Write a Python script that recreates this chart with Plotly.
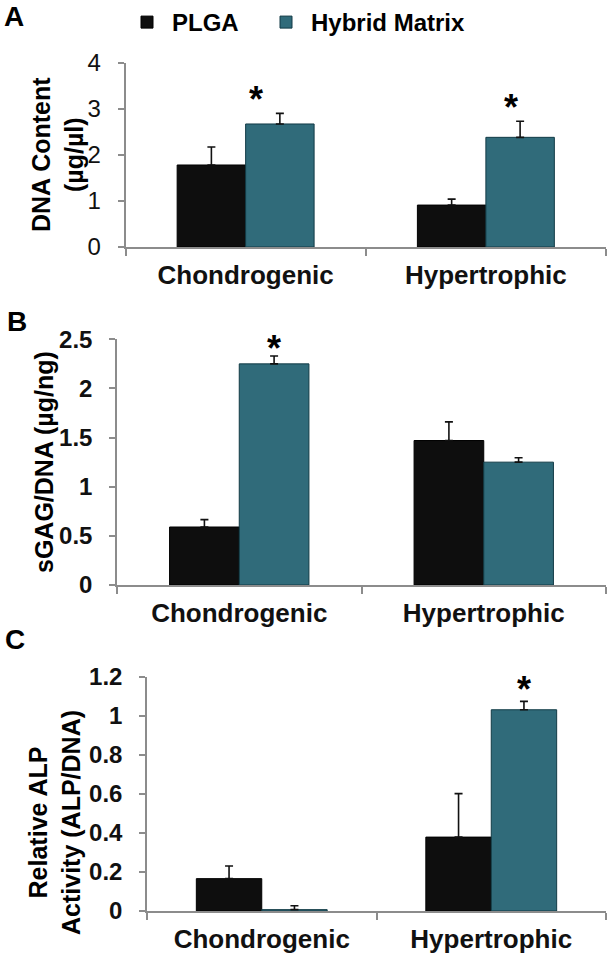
import plotly.graph_objects as go

# ---------------- data ----------------
categories = ["Chondrogenic", "Hypertrophic"]
series_names = ["PLGA", "Hybrid Matrix"]

dna_plga = [1.78, 0.91]
dna_plga_err = [0.39, 0.13]
dna_hybrid = [2.67, 2.38]
dna_hybrid_err = [0.23, 0.35]

gag_plga = [0.59, 1.47]
gag_plga_err = [0.075, 0.19]
gag_hybrid = [2.25, 1.25]
gag_hybrid_err = [0.08, 0.045]

alp_plga = [0.166, 0.379]
alp_plga_err = [0.065, 0.223]
alp_hybrid = [0.007, 1.032]
alp_hybrid_err = [0.02, 0.043]

# significance (hybrid vs PLGA) per panel and category
sig_dna = [True, True]
sig_gag = [True, False]
sig_alp = [False, True]

panel_letters = ["A", "B", "C"]
y_titles = ["DNA Content<br>(µg/µl)", "sGAG/DNA (µg/ng)", "Relative ALP<br>Activity (ALP/DNA)"]
y_ticks_dna = [0, 1, 2, 3, 4]
y_ticks_gag = [0, 0.5, 1, 1.5, 2, 2.5]
y_ticks_alp = [0, 0.2, 0.4, 0.6, 0.8, 1, 1.2]

# ---------------- style ----------------
W, H = 608, 960
FONT = "Liberation Sans, Arial, sans-serif"
C_PLGA = "#0e0e0e"
C_HYB = "#306b7a"
AXC = "#8c8c8c"


def px_x(p):
    return p / W


def px_y(p):
    return 1 - p / H


panels = [
    dict(plga=dna_plga, plga_err=dna_plga_err, hyb=dna_hybrid, hyb_err=dna_hybrid_err,
         sig=sig_dna, ticks=y_ticks_dna, rng=[0, 4], xdom=[125.5, 606], ydom=[62.7, 247],
         bold_ticks=False, star_dx=[10, 25], star_dy=14, title_x=57, title_y=155, letter=(2, 17)),
    dict(plga=gag_plga, plga_err=gag_plga_err, hyb=gag_hybrid, hyb_err=gag_hybrid_err,
         sig=sig_gag, ticks=y_ticks_gag, rng=[0, 2.5], xdom=[117, 606], ydom=[339.3, 585],
         bold_ticks=True, star_dx=[35, 35], star_dy=8, title_x=44, title_y=462, letter=(5, 321)),
    dict(plga=alp_plga, plga_err=alp_plga_err, hyb=alp_hybrid, hyb_err=alp_hybrid_err,
         sig=sig_alp, ticks=y_ticks_alp, rng=[0, 1.2], xdom=[147, 606], ydom=[677, 911],
         bold_ticks=True, star_dx=[33, 33], star_dy=12, title_x=54, title_y=823, letter=(3, 639)),
]

fig = go.Figure()
annotations = []
layout_axes = {}

for i, p in enumerate(panels):
    n = "" if i == 0 else str(i + 1)
    xa, ya = "x" + n, "y" + n
    for k, (name, vals, errs, col) in enumerate([
        (series_names[0], p["plga"], p["plga_err"], C_PLGA),
        (series_names[1], p["hyb"], p["hyb_err"], C_HYB),
    ]):
        fig.add_trace(go.Bar(
            x=categories, y=vals, name=name, xaxis=xa, yaxis=ya,
            marker=dict(color=col, line=dict(color="#123b46" if col == C_HYB else "#000000", width=1)),
            error_y=dict(type="data", array=errs, arrayminus=[0] * len(errs), symmetric=False,
                         color="#111111", thickness=1.6, width=4),
            showlegend=(i == 0), legendgroup=name,
            legend="legend" if k == 0 else "legend2",
        ))
    tickfont = dict(family=FONT, size=24, color="#111111")
    if p["bold_ticks"]:
        tickfont["weight"] = "bold"
    layout_axes["xaxis" + n] = dict(
        domain=[px_x(p["xdom"][0]), px_x(p["xdom"][1])], anchor=ya,
        type="category", tickson="boundaries", ticks="outside", ticklen=7, tickwidth=1.5,
        tickcolor=AXC, showline=True, linecolor=AXC, linewidth=1.5, showgrid=False,
        tickfont=dict(family=FONT, size=26, color="#111111", weight="bold"),
        ticklabelstandoff=4, automargin=False, fixedrange=True,
    )
    layout_axes["yaxis" + n] = dict(
        domain=[px_y(p["ydom"][1]), px_y(p["ydom"][0])], anchor=xa,
        range=p["rng"], tickvals=p["ticks"], ticktext=[f"{t:g}" for t in p["ticks"]],
        ticks="outside", ticklen=6, tickwidth=1.5, tickcolor=AXC, showline=True,
        linecolor=AXC, linewidth=1.5, showgrid=False, zeroline=False,
        tickfont=tickfont, ticklabelstandoff=12, automargin=False, fixedrange=True,
    )
    # significance stars
    for j, cat in enumerate(categories):
        if p["sig"][j]:
            annotations.append(dict(
                x=cat, y=p["hyb"][j] + p["hyb_err"][j], xref=xa, yref=ya,
                text="*", showarrow=False, xanchor="center", yanchor="middle",
                xshift=p["star_dx"][j], yshift=p["star_dy"],
                font=dict(family=FONT, size=36, color="#000000", weight="bold"),
            ))
    # y-axis title
    annotations.append(dict(
        x=px_x(p["title_x"]), y=px_y(p["title_y"]), xref="paper", yref="paper",
        text=y_titles[i], textangle=-90, showarrow=False, xanchor="center", yanchor="middle",
        font=dict(family=FONT, size=25, color="#000000", weight="bold"),
    ))
    # panel letter
    annotations.append(dict(
        x=px_x(p["letter"][0]), y=px_y(p["letter"][1]), xref="paper", yref="paper",
        text=panel_letters[i], showarrow=False, xanchor="left", yanchor="middle",
        font=dict(family=FONT, size=28, color="#000000", weight="bold"),
    ))

legend_font = dict(family=FONT, size=24, color="#000000", weight="bold")
fig.update_layout(
    width=W, height=H, margin=dict(l=0, r=0, t=0, b=0, autoexpand=False),
    paper_bgcolor="white", plot_bgcolor="white",
    barmode="group", bargap=0.43, bargroupgap=0,
    font=dict(family=FONT, color="#000000"),
    legend=dict(orientation="h", x=px_x(122), y=px_y(0), xanchor="left", yanchor="top",
                font=legend_font, bgcolor="rgba(0,0,0,0)", itemwidth=40),
    legend2=dict(orientation="h", x=px_x(261), y=px_y(0), xanchor="left", yanchor="top",
                 font=legend_font, bgcolor="rgba(0,0,0,0)", itemwidth=40),
    annotations=annotations,
    **layout_axes,
)

fig.write_html("out.html", config={"displayModeBar": False},
               post_script="document.body.style.margin='0';")
